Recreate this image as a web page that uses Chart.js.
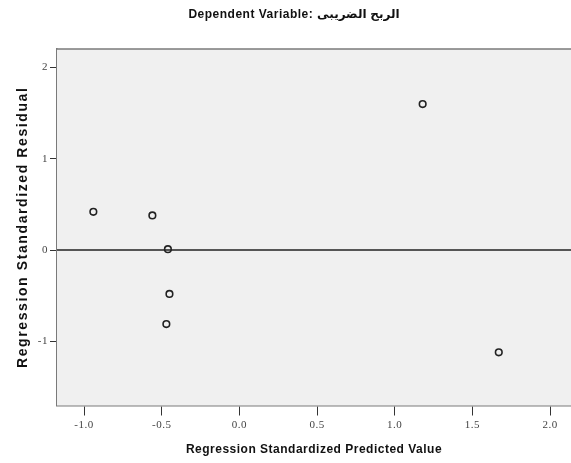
<!DOCTYPE html>
<html>
<head>
<meta charset="utf-8">
<script src="https://cdn.jsdelivr.net/npm/chart.js@4.4.0/dist/chart.umd.min.js"></script>
<style>
  body { margin: 0; background: #fff; overflow: hidden; }
</style>
</head>
<body>
<canvas id="residChart" width="571" height="463"></canvas>
<script>
// values
var predicted = [-0.94, -0.56, -0.46, -0.45, -0.47, 1.18, 1.67];
var residual  = [0.42, 0.38, 0.01, -0.48, -0.81, 1.60, -1.12];

var xTicks = [-1.0, -0.5, 0.0, 0.5, 1.0, 1.5, 2.0];
var yTicks = [-1, 0, 1, 2];
var xMin = -1.174, xMax = 2.135;
var yMin = -1.702, yMax = 2.203;

var yTitle = 'Regression Standardized Residual';

var points = predicted.map(function(v, i) {
    return { x: v, y: residual[i] };
});

// plot background, top edge of the frame, spaced y title
var framePlugin = {
    id: 'frame',
    beforeDraw: function(chart) {
        chart.ctx.letterSpacing = '0.5px';
    },
    beforeDatasetsDraw: function(chart) {
        var a = chart.chartArea, ctx = chart.ctx;
        ctx.save();
        ctx.fillStyle = '#f0f0f0';
        ctx.fillRect(a.left, a.top, a.right - a.left, a.bottom - a.top);
        ctx.restore();
    },
    afterDraw: function(chart) {
        var a = chart.chartArea, ctx = chart.ctx;
        ctx.save();
        ctx.strokeStyle = '#7a7a7a';
        ctx.lineWidth = 1.5;
        ctx.beginPath();
        ctx.moveTo(a.left, a.top);
        ctx.lineTo(a.right, a.top);
        ctx.stroke();

        ctx.translate(23, (a.top + a.bottom) / 2);
        ctx.rotate(-Math.PI / 2);
        ctx.letterSpacing = '1.6px';
        ctx.font = 'bold 14px "Liberation Sans", Arial';
        ctx.fillStyle = '#111';
        ctx.textAlign = 'center';
        ctx.textBaseline = 'middle';
        ctx.fillText(yTitle, 0, 0);
        ctx.restore();
        ctx.letterSpacing = '0px';
    }
};

var ctx = document.getElementById('residChart').getContext('2d');
new Chart(ctx, {
    type: 'scatter',
    data: {
        datasets: [{
            type: 'line',
            data: [{ x: xMin, y: 0 }, { x: xMax, y: 0 }],
            borderColor: '#555',
            borderWidth: 2,
            pointRadius: 0,
            order: 2
        }, {
            data: points,
            backgroundColor: 'rgba(0,0,0,0)',
            borderColor: '#222',
            borderWidth: 1.6,
            pointRadius: 3.3,
            order: 1
        }]
    },
    options: {
        responsive: false,
        animation: false,
        layout: { padding: { left: 17, right: 0, top: 0, bottom: 0 }, autoPadding: false },
        plugins: {
            legend: { display: false },
            tooltip: { enabled: false },
            title: {
                display: true,
                text: 'Dependent Variable: الربح الضريبى',
                color: '#111',
                font: { family: 'Liberation Sans, DejaVu Sans, Arial', size: 12, weight: 'bold' },
                padding: { top: 7, bottom: 27.6 }
            }
        },
        scales: {
            x: {
                type: 'linear',
                min: xMin,
                max: xMax,
                afterBuildTicks: function(scale) {
                    scale.ticks = xTicks.map(function(v) { return { value: v }; });
                },
                afterFit: function(scale) { scale.height = 57.5; },
                ticks: {
                    color: '#444',
                    padding: 3,
                    maxRotation: 0,
                    font: { family: 'Liberation Serif, DejaVu Serif', size: 11 },
                    callback: function(v) { return Number(v).toFixed(1); }
                },
                grid: { drawOnChartArea: false, drawTicks: true, tickLength: 10, tickColor: '#333' },
                border: { display: true, color: '#7a7a7a', width: 1.5 },
                title: {
                    display: true,
                    text: 'Regression Standardized Predicted Value',
                    color: '#111',
                    font: { family: 'Liberation Sans, Arial', size: 12, weight: 'bold' },
                    padding: { top: 0, bottom: 6 }
                }
            },
            y: {
                type: 'linear',
                min: yMin,
                max: yMax,
                afterBuildTicks: function(scale) {
                    scale.ticks = yTicks.map(function(v) { return { value: v }; });
                },
                afterFit: function(scale) { scale.width = 40; },
                ticks: {
                    color: '#444',
                    padding: 2,
                    font: { family: 'Liberation Serif, DejaVu Serif', size: 11 }
                },
                grid: { drawOnChartArea: false, drawTicks: true, tickLength: 7, tickColor: '#333' },
                border: { display: true, color: '#7a7a7a', width: 1.5 },
                title: { display: false }
            }
        }
    },
    plugins: [framePlugin]
});
</script>
</body>
</html>
